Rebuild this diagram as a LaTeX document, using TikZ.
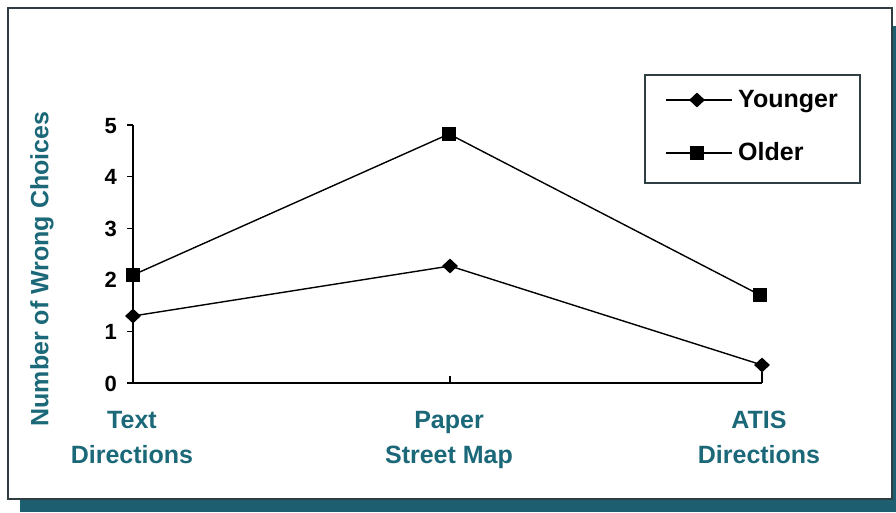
\documentclass[tikz,border=0pt]{standalone}
\usepackage{fontspec}
\setmainfont{Liberation Sans}
\usetikzlibrary{shapes.geometric}
\definecolor{tealtxt}{HTML}{1B6878}
\definecolor{tealshadow}{HTML}{1D5F70}
\definecolor{frame}{HTML}{2E3E42}
\tikzset{
  diam/.style={diamond,fill=black,inner sep=0pt,minimum width=16pt,minimum height=15pt},
  sq/.style={rectangle,fill=black,inner sep=0pt,minimum size=14pt},
  dataline/.style={line width=1.4pt,black},
  axisline/.style={line width=1.8pt,black},
  ticklab/.style={font=\fontsize{22}{24}\selectfont\bfseries,anchor=base east,inner sep=0pt},
  catlab/.style={font=\fontsize{25}{35}\selectfont\bfseries,text=tealtxt,align=center,inner sep=0pt,anchor=base},
  leglab/.style={font=\fontsize{25}{28}\selectfont\bfseries,anchor=base west,inner sep=0pt},
}
\begin{document}
\begin{tikzpicture}[x=1pt,y=-1pt]
\useasboundingbox (0,0) rectangle (896,512);
% shadow
\fill[tealshadow] (20,498) rectangle (896,512);
\fill[tealshadow] (892,26) rectangle (896,512);
% panel
\filldraw[fill=white,draw=frame,line width=1.6pt] (8,8) rectangle (892,499);
% axes
\coordinate (o) at (133,383);
\coordinate (ytop) at (133,125);
\coordinate (xend) at (762,383);
\draw[axisline] (ytop) -- (o) -- (xend);
\foreach \v/\yy in {0/383,1/331.4,2/279.8,3/228.2,4/176.6,5/125}{
  \draw[line width=1.2pt] (127,\yy) -- (133,\yy);
  \node[ticklab] (t\v) at (117,\yy+8) {\v};
}
\draw[line width=1.2pt] (450,383) -- (450,376);
\draw[line width=1.2pt] (762,383) -- (762,372);
% axis title
\node[font=\fontsize{25}{28}\selectfont\bfseries,text=tealtxt,rotate=90] (ylab) at (42,269) {Number of Wrong Choices};
% category labels
\node[catlab] (c1) at (132,463) {Text\\Directions};
\node[catlab] (c2) at (449,463) {Paper\\Street Map};
\node[catlab] (c3) at (759,463) {ATIS\\Directions};
% data
\coordinate (y1) at (133,316);
\coordinate (y2) at (450,266);
\coordinate (y3) at (762,365);
\coordinate (o1) at (133,275);
\coordinate (o2) at (449,134);
\coordinate (o3) at (760,295);
\draw[dataline] (y1) -- (y2) -- (y3);
\draw[dataline] (o1) -- (o2) -- (o3);
\node[diam] (dy1) at (y1) {};
\node[diam] (dy2) at (y2) {};
\node[diam] (dy3) at (y3) {};
\node[sq] (so1) at (o1) {};
\node[sq] (so2) at (o2) {};
\node[sq] (so3) at (o3) {};
% legend
\draw[frame,line width=1.4pt] (645,75) rectangle (860,183);
\coordinate (la1) at (666,100);
\coordinate (lb1) at (732,100);
\coordinate (la2) at (666,153);
\coordinate (lb2) at (732,153);
\draw[dataline] (la1) -- (lb1);
\draw[dataline] (la2) -- (lb2);
\node[diam] (ld) at (697,100) {};
\node[sq] (ls) at (697,153) {};
\node[leglab] (l1) at (738,107) {Younger};
\node[leglab] (l2) at (738,160) {Older};
\end{tikzpicture}
\end{document}
